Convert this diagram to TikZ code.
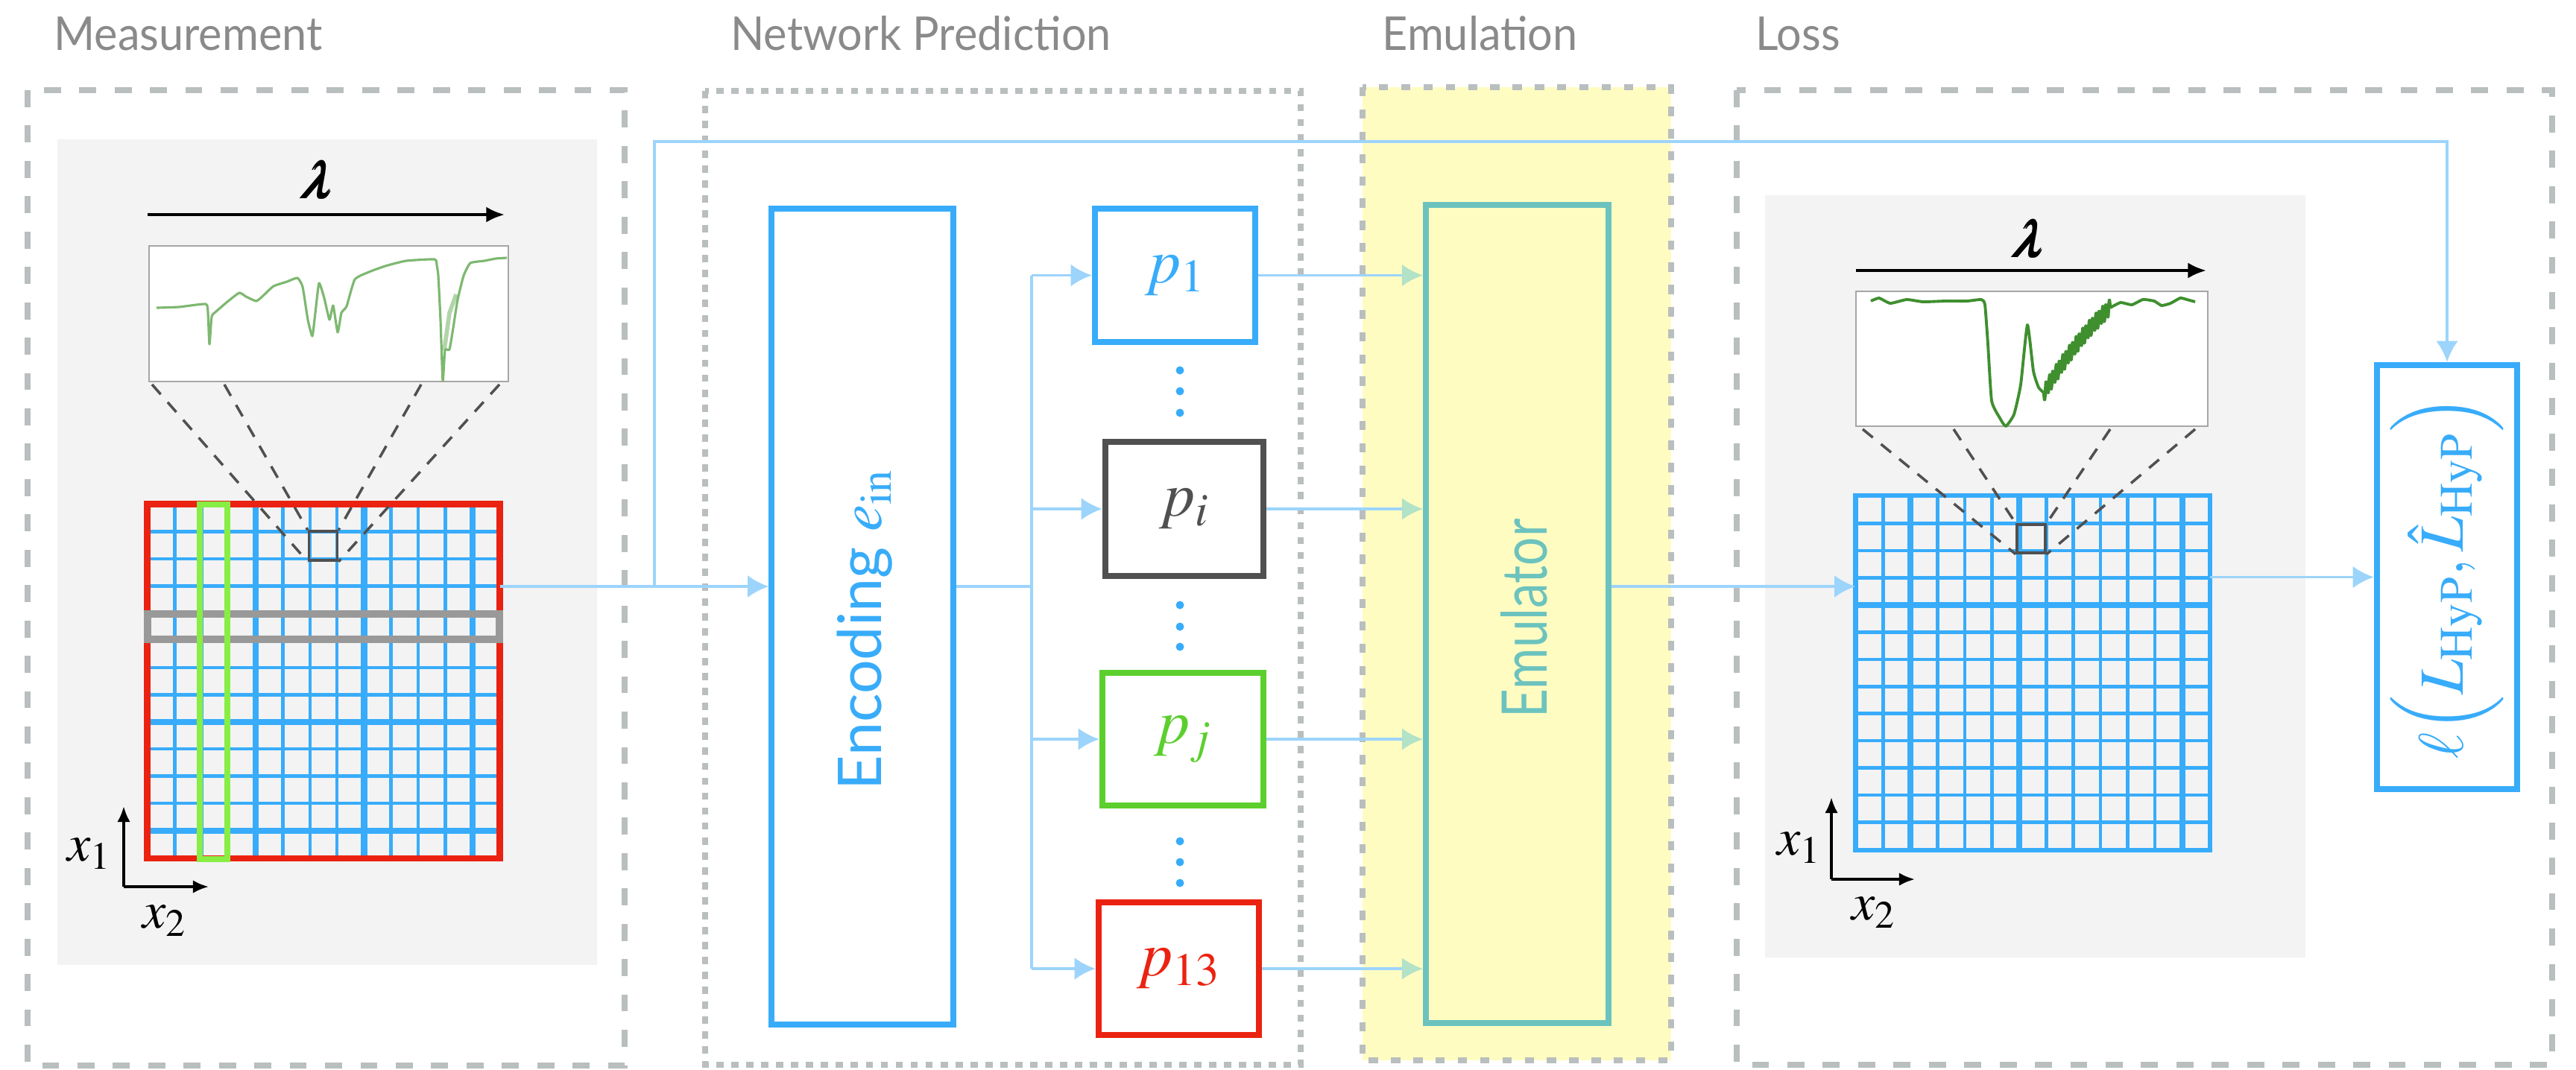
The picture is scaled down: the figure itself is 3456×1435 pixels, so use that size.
\documentclass[tikz,border=0pt]{standalone}
\usepackage{mathptmx}
\usepackage{amsmath}
\usepackage{bm}
\usepackage[no-math]{fontspec}
\setmainfont{Lato}
\newfontfamily\condfont[FakeStretch=0.8]{Lato}
\newfontfamily\titlefont[FakeStretch=0.95]{Lato}
\usetikzlibrary{arrows.meta,calc}
\definecolor{cblue}{HTML}{38ACFA}
\definecolor{clblue}{HTML}{9CD4FB}
\definecolor{cred}{HTML}{EB2211}
\definecolor{cgreen}{HTML}{5CCF2E}
\definecolor{clgreen}{HTML}{88EE44}
\definecolor{cdark}{HTML}{505050}
\definecolor{cteal}{HTML}{6CC3BE}
\definecolor{cyellow}{HTML}{FFFCC2}
\definecolor{cbg}{HTML}{F3F3F3}
\definecolor{cframe}{HTML}{B9BEBF}
\definecolor{ctitle}{HTML}{8A8A8A}
\definecolor{cspec}{HTML}{3F8F2F}
\definecolor{clspec}{HTML}{7DB870}
\definecolor{carrowy}{HTML}{B2E2C8}
\definecolor{crow}{HTML}{999999}
\begin{document}
\begin{tikzpicture}[x=0.1mm,y=-0.1mm,
  title/.style={anchor=base west,text=ctitle,font=\titlefont\fontsize{17.8}{22}\selectfont},
  frameA/.style={draw=cframe,line width=2.3pt,dash pattern=on 6.5pt off 7pt},
  frameB/.style={draw=cframe,line width=2.3pt,dash pattern=on 2.8pt off 2.9pt},
  frameC/.style={draw=cframe,line width=2.3pt,dash pattern=on 3.5pt off 5pt,fill=cyellow},
  box/.style={rectangle,inner sep=0pt,fill=white},
  pbox/.style={box,line width=2.4pt,minimum width=21.5mm,minimum height=17.9mm,font=\fontsize{24}{28}\selectfont},
  conn/.style={draw=clblue,line width=1.1pt},
  arr/.style={conn,-{Latex[length=8pt,width=8.5pt]}},
  arry/.style={conn,-{Latex[length=8pt,width=8.5pt,color=carrowy]}},
  zoomline/.style={draw=cdark,line width=1pt,dash pattern=on 5pt off 4pt},
  axis/.style={draw=black,line width=1.1pt,-{Latex[length=6pt,width=5pt]}},
  axlab/.style={font=\fontsize{20}{24}\selectfont},
  lam/.style={draw=black,line width=1.2pt,-{Latex[length=7pt,width=6pt]}},
  lamlab/.style={font=\fontsize{19}{22}\selectfont,xslant=0.22},
  dot/.style={fill=cblue,draw=none}
]
\useasboundingbox (0,0) rectangle (3456,1435);

% titles
\node[title] (tmeas) at (60,67) {Measurement};
\node[title] (tnet) at (968,67) {Network Prediction};
\node[title] (temu) at (1842,67) {Emulation};
\node[title] (tloss) at (2343,67) {Loss};

% frames
\draw[frameC] (1828,117) rectangle (2242,1423);
\draw[frameA] (37,121) rectangle (838,1430);
\draw[frameB] (946,122) rectangle (1745,1429);
\draw[frameA] (2330,121) rectangle (3424,1429);

% gray backgrounds
\fill[cbg] (77,187) rectangle (801,1295);
\fill[cbg] (2368,262) rectangle (3093,1285);

% ---------- measurement ----------
\draw[lam] (198,288) -- (677,288);
\node[lamlab] (lam1) at (430,241) {$\bm{\lambda}$};
\node[box,draw=black!35,line width=0.7pt,minimum width=48.2mm,minimum height=18.2mm] (spec1) at (441,421) {};
\draw[clspec,line width=0.9pt,line join=round]
 plot[smooth,tension=0.3] coordinates {(210,413) (240,412) (276,408) (279,420) (281,462) (284,425) (290,418) (305,405) (321,393) (330,398) (344,404) (355,395) (367,384) (385,378) (399,373) (406,385) (413,429) (419,451) (423,420) (428,380) (435,400) (442,429) (447,410) (453,446) (458,420) (465,411) (476,375) (495,365) (517,357) (545,350) (583,348) (586,356) (588,370) (591,430) (594,511) (597,470) (603,469) (608,440) (614,402) (622,370) (631,353) (650,350) (665,347) (680,346)};
\draw[clspec,line width=1.6pt,opacity=0.6] (596,470) -- (603,420) -- (612,395);
% grid
\node[inner sep=0pt,minimum width=47.2mm,minimum height=47.4mm] (mgrid) at (434,914) {};
\foreach \i in {1,...,12}{
  \pgfmathsetmacro\xx{198+\i*472/13}
  \pgfmathsetmacro\yy{677+\i*474/13}
  \pgfmathsetmacro\lw{ifthenelse(mod(\i,4)==0,2.3,1.3)}
  \draw[cblue,line width=\lw pt] (\xx,677) -- (\xx,1151);
  \draw[cblue,line width=\lw pt] (198,\yy) -- (670,\yy);
}
\draw[cred,line width=2.4pt] (mgrid.north west) rectangle (mgrid.south east);
\draw[crow,line width=2.8pt] (198,824) rectangle (670,858);
\draw[clgreen,line width=2.3pt] (268,677) rectangle (305,1153);
\node[inner sep=0pt,draw=cdark,line width=1pt,minimum width=3.8mm,minimum height=3.9mm] (msq) at (433.5,732.5) {};
\draw[zoomline] (204,516) -- (msq.south west);
\draw[zoomline] (301,516) -- (msq.north west);
\draw[zoomline] (565,516) -- (msq.north east);
\draw[zoomline] (670,516) -- (msq.south east);
% axes
\coordinate (mo) at (166,1190);
\draw[axis] (mo) -- (166,1082);
\draw[axis] (mo) -- (280,1190);
\node[axlab] (mx1) at (120,1146) {$x_1$};
\node[axlab] (mx2) at (221,1236) {$x_2$};

% ---------- network prediction ----------
\node[box,draw=cblue,line width=2.1pt,minimum width=24.4mm,minimum height=109.5mm] (enc) at (1157,827.5) {};
\node[rotate=90,text=cblue,font=\fontsize{23}{28}\selectfont] (enct) at (1160,845) {Encoding $e_{\mathrm{in}}$};
\node[pbox,draw=cblue,text=cblue] (p1) at (1576.5,369.5) {$p_1$};
\node[pbox,draw=cdark,text=cdark,minimum width=21.2mm,minimum height=18mm] (pi) at (1589,683) {$p_i$};
\node[pbox,draw=cgreen,text=cgreen,minimum width=21.6mm,minimum height=17.8mm] (pj) at (1587,992) {$p_j$};
\node[pbox,draw=cred,text=cred,minimum height=17.8mm] (p13) at (1581.5,1300) {$p_{13}$};
\foreach \y in {497,525,554,812,841,868,1129,1157,1185}{
  \fill[dot] (1583,\y) circle[radius=0.55mm];
}

% ---------- emulation ----------
\node[inner sep=0pt,draw=cteal,line width=2.3pt,minimum width=24.5mm,minimum height=109.8mm] (emu) at (2035.5,824) {};
\node[rotate=90,text=cteal,font=\condfont\fontsize{24}{28}\selectfont] (emut) at (2045,830) {Emulator};

% ---------- loss ----------
\draw[lam] (2490,363) -- (2960,363);
\node[lamlab] (lam2) at (2726,320) {$\bm{\lambda}$};
\node[box,draw=black!35,line width=0.7pt,minimum width=47.2mm,minimum height=18.1mm] (spec2) at (2726,481.5) {};
\draw[cspec,line width=1.1pt,line join=round]
 plot[smooth,tension=0.3] coordinates {(2510,404) (2521,400) (2536,407) (2558,402) (2580,405) (2610,404) (2639,404) (2658,402) (2663,409) (2667,462) (2672,538) (2683,561) (2691,572) (2702,556) (2711,516) (2720,436) (2728,498) (2735,520) (2742,527)};
\draw[cspec,line width=1.3pt,line join=round]
 plot[domain=0:1,samples=91] ({2742+89*\x},{527-114*(1.3*\x-0.3*\x*\x)+11*sin(\x*360*20)});
\draw[cspec,line width=1.1pt,line join=round]
 plot[smooth,tension=0.3] coordinates {(2831,413) (2845,406) (2860,409) (2875,402) (2890,404) (2900,410) (2912,407) (2925,400) (2934,402) (2945,405)};
\node[inner sep=0pt,minimum width=47.4mm,minimum height=47.4mm] (lgrid) at (2727,903) {};
\foreach \i in {1,...,12}{
  \pgfmathsetmacro\xx{2490+\i*474/13}
  \pgfmathsetmacro\yy{666+\i*474/13}
  \pgfmathsetmacro\lwx{ifthenelse(or(\i==2,or(\i==6,\i==12)),2.3,1.3)}
  \pgfmathsetmacro\lwy{ifthenelse(\i==4,2.3,1.3)}
  \draw[cblue,line width=\lwx pt] (\xx,666) -- (\xx,1140);
  \draw[cblue,line width=\lwy pt] (2490,\yy) -- (2964,\yy);
}
\draw[cblue,line width=1.8pt] (lgrid.north west) rectangle (lgrid.south east);
\node[inner sep=0pt,draw=cdark,line width=1pt,minimum width=3.8mm,minimum height=3.8mm] (lsq) at (2725,723) {};
\draw[zoomline] (2499,576) -- (lsq.south west);
\draw[zoomline] (2621,576) -- (lsq.north west);
\draw[zoomline] (2831,576) -- (lsq.north east);
\draw[zoomline] (2945,576) -- (lsq.south east);
\coordinate (lo) at (2457,1180);
\draw[axis] (lo) -- (2457,1070);
\draw[axis] (lo) -- (2569,1180);
\node[axlab] (lx1) at (2414,1138) {$x_1$};
\node[axlab] (lx2) at (2514,1225) {$x_2$};
\node[box,draw=cblue,line width=2.5pt,minimum width=18.8mm,minimum height=56.9mm] (lbox) at (3283,774.5) {};
\node[rotate=90,text=cblue,font=\fontsize{24}{28}\selectfont] (lboxt) at (lbox) {$\ell\Bigl(L_{\mathrm{HyP}},\hat{L}_{\mathrm{HyP}}\Bigr)$};

% ---------- connectors ----------
\coordinate (j1) at (878,787);
\coordinate (jt) at (878,190);
\coordinate (j2) at (1384,787);
\draw[conn] (mgrid.east |- j1) -- (j1);
\draw[arr] (j1) -- (enc.west |- j1);
\draw[arr] (j1) -- (jt) -| (lbox.north);
\draw[conn] (enc.east |- j2) -- (j2);
\draw[conn] (j2 |- p1) -- (j2 |- p13);
\draw[arr] (j2 |- p1) -- (p1.west);
\draw[arr] (j2 |- pi) -- (pi.west);
\draw[arr] (j2 |- pj) -- (pj.west);
\draw[arr] (j2 |- p13) -- (p13.west);
\draw[arry] (p1.east) -- (emu.west |- p1);
\draw[arry] (pi.east) -- (emu.west |- pi);
\draw[arry] (pj.east) -- (emu.west |- pj);
\draw[arry] (p13.east) -- (emu.west |- p13);
\draw[arr] (emu.east |- j1) -- (lgrid.west |- j1);
\draw[arr] (lgrid.east |- lbox) -- (lbox.west);
\end{tikzpicture}
\end{document}
